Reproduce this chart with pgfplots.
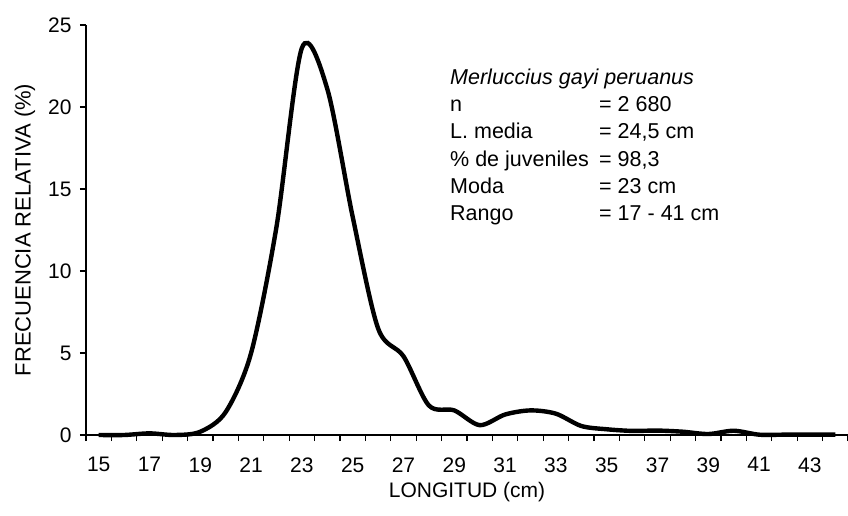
\documentclass[border=0pt]{standalone}
\usepackage{fontspec}
\setmainfont{Liberation Sans}
\usepackage{pgfplots}
\pgfplotsset{compat=1.18}
\begin{document}
\begin{tikzpicture}[x=1pt,y=1pt]
\path[use as bounding box] (-86,-80) rectangle (762,435);
\begin{axis}[
  at={(0,0)}, anchor=origin,
  scale only axis, width=762pt, height=410pt,
  xmin=14.5, xmax=44.5, ymin=0, ymax=25,
  axis x line*=bottom, axis y line*=left,
  axis line style={-, line width=1.3pt},
  tick align=outside,
  major tick length=6pt,
  tick style={line width=1.1pt, black},
  xtick={14.5,15.5,...,44.5},
  xticklabels={},
  extra x ticks={15,17,...,43},
  extra x tick style={major tick length=0pt, xticklabel style={yshift=-19pt}},
  ytick={0,5,...,25},
  yticklabel style={xshift=-5pt},
  ticklabel style={font=\fontsize{21}{25}\selectfont},
  /pgf/number format/assume math mode=true,
  xlabel={LONGITUD (cm)},
  ylabel={FRECUENCIA RELATIVA (\%)},
  xlabel style={font=\fontsize{21}{25}\selectfont, at={(axis description cs:0.5,-0.139)}, anchor=center},
  ylabel style={font=\fontsize{22}{25}\selectfont, at={(axis description cs:-0.08,0.5)}, anchor=center},
  clip=false,
]
\addplot[black, line width=4.4pt, smooth, tension=0.5] coordinates {
(15,0) (16,0) (17,0.1) (18,0) (19,0.2) (20,1.4) (21,5.0) (22,12.7)
(23,23.6) (24,21.1) (25,13.3) (26,6.5) (27,4.8) (28,1.8) (29,1.5)
(30,0.6) (31,1.25) (32,1.5) (33,1.3) (34,0.55) (35,0.35) (36,0.25)
(37,0.27) (38,0.2) (39,0.06) (40,0.26) (41,0.02) (42,0.02) (43,0.02) (44,0.02)
};
\node[anchor=north west, inner sep=0pt, font=\fontsize{21.5}{27.3}\selectfont]
  at (rel axis cs:0.4777,1) [yshift=-40pt] {%
  \begin{tabular}{@{}p{149pt}@{}l@{}}
  \multicolumn{2}{@{}l}{\itshape Merluccius gayi peruanus}\\
  n & = 2 680\\
  L. media & = 24,5 cm\\
  \% de juveniles & = 98,3\\
  Moda & = 23 cm\\
  Rango & = 17 - 41 cm
  \end{tabular}};
\end{axis}
\end{tikzpicture}
\end{document}
